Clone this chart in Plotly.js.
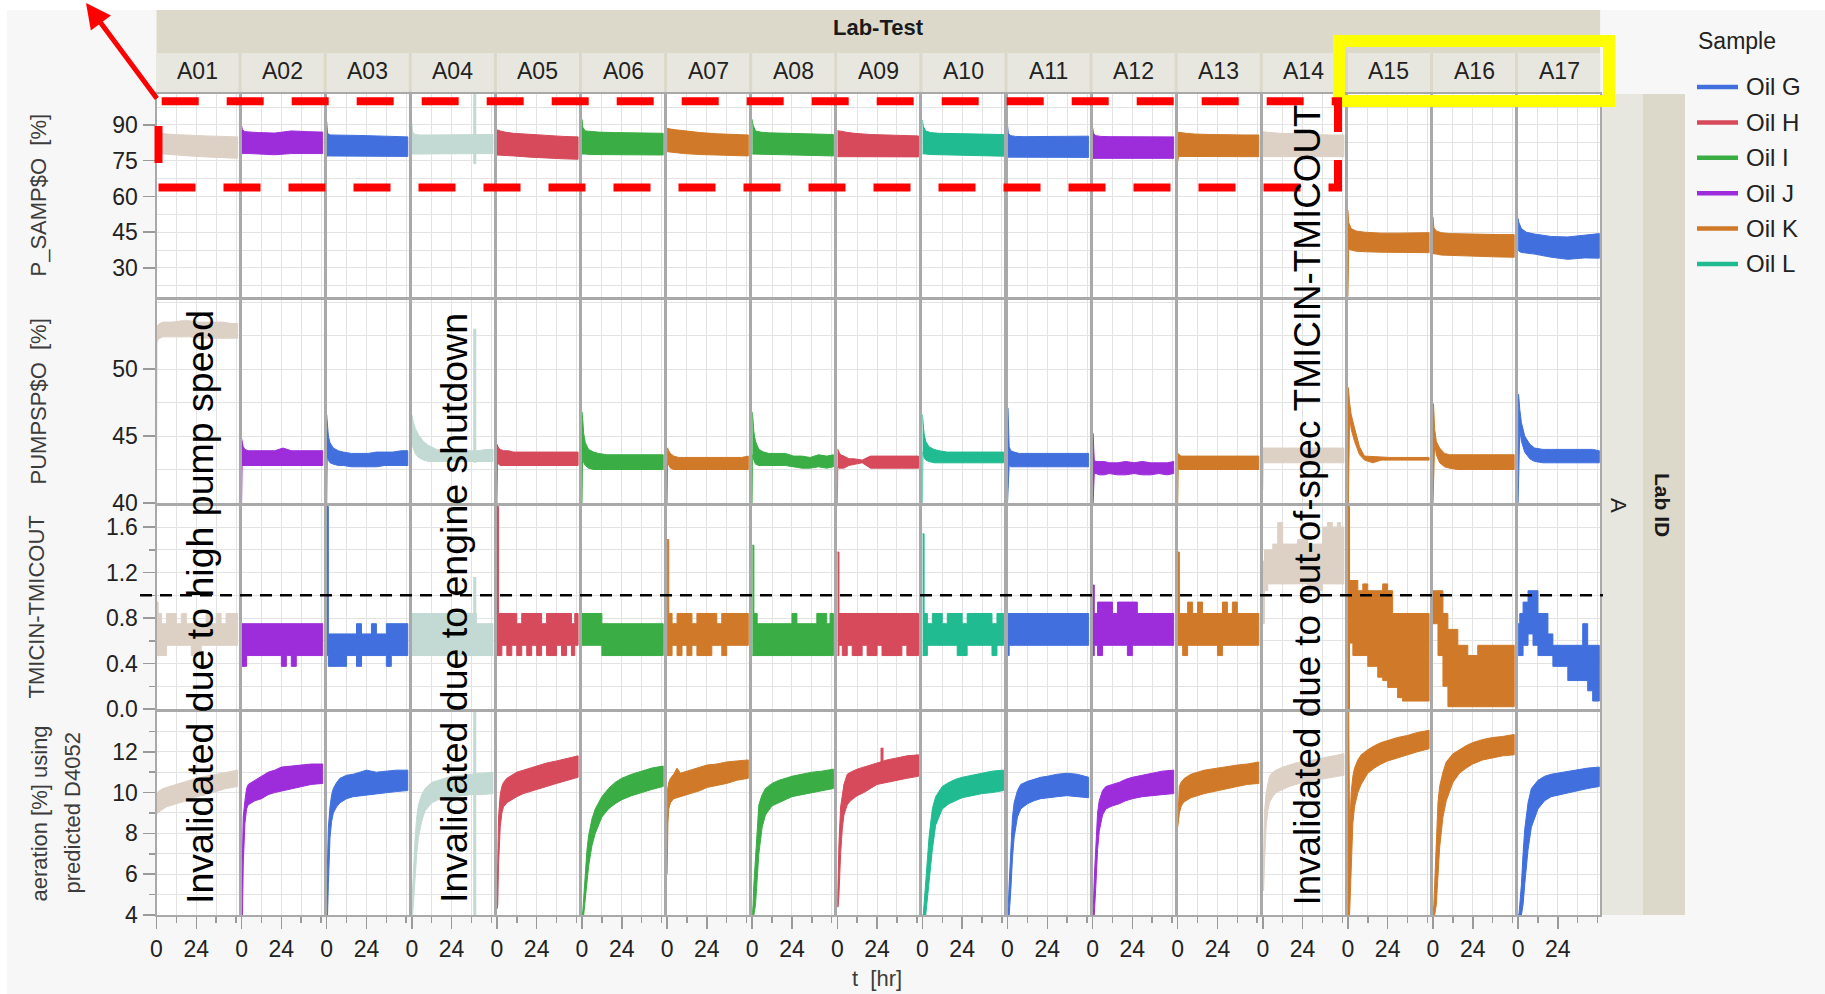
<!DOCTYPE html>
<html><head><meta charset="utf-8">
<script src="https://cdn.plot.ly/plotly-3.0.1.min.js"></script>
<style>html,body{margin:0;padding:0;background:#fff;}#chart{width:1825px;height:994px;}</style>
</head><body><div id="chart"></div>
<script>
// ---------------- DATA ----------------
const testIds = ['A01','A02','A03','A04','A05','A06','A07','A08','A09','A10','A11','A12','A13','A14','A15','A16','A17'];
const testSample = [null,'Oil J','Oil G',null,'Oil H','Oil I','Oil K','Oil I','Oil H','Oil L','Oil G','Oil J','Oil K',null,'Oil K','Oil K','Oil G'];
const oilNames = ['Oil G','Oil H','Oil I','Oil J','Oil K','Oil L'];
const rowTitles = ['P_SAMP$O\u00a0 [%]','PUMPSP$O\u00a0 [%]','TMICIN-TMICOUT','aeration [%] using','predicted D4052'];
const limitDT = 1.0;

// P_SAMP$O [%] envelope (upper / lower) at T1 hours
const T1 = [0, 0.5, 2, 5, 10, 20, 30, 40, 49];
const psampHi = [
 [86.5,86.5,86.5,86.3,86.0,85.6,85.4,85.2,85.0],
 [89.6,88.0,87.2,87.0,86.8,86.6,87.5,87.2,87.0],
 [91.4,86.5,85.8,85.8,85.8,85.6,85.4,85.2,85.0],
 [90.8,87.0,86.0,85.8,85.8,85.8,86.0,86.0,86.0],
 [87.9,87.9,87.5,87.0,86.5,86.0,85.5,85.2,85.0],
 [92.4,89.0,87.5,87.2,87.0,86.8,86.6,86.5,86.5],
 [88.6,88.6,88.3,88.0,87.5,86.8,86.3,86.0,85.8],
 [92.4,90.0,87.5,87.0,86.7,86.5,86.4,86.2,86.0],
 [87.6,87.6,87.4,87.0,86.5,86.0,85.7,85.5,85.4],
 [92.1,89.5,87.5,86.8,86.5,86.3,86.1,86.0,86.0],
 [90.0,86.5,85.5,85.2,85.1,85.1,85.1,85.1,85.3],
 [89.0,86.5,85.5,85.2,85.1,85.1,85.1,85.1,85.0],
 [87.0,87.0,86.8,86.5,86.2,86.0,85.8,85.8,85.8],
 [87.2,87.2,87.0,86.8,86.5,86.3,86.0,85.8,85.8],
 [54.3,49.0,46.5,45.5,45.0,44.6,44.6,44.6,44.8],
 [51.5,47.0,45.5,44.8,44.4,44.2,44.0,44.0,44.0],
 [50.8,49.0,46.5,45.0,44.2,43.2,43.0,43.8,44.4]];
const psampLo = [
 [72.0,78.0,78.0,77.8,77.6,77.0,76.6,76.2,76.0],
 [78.0,78.0,78.0,78.0,78.0,77.5,78.0,78.0,78.0],
 [77.0,77.0,77.0,76.8,76.8,76.8,76.8,76.8,76.8],
 [77.8,77.8,77.8,77.8,77.8,77.8,78.0,78.0,78.0],
 [77.4,77.4,77.4,77.2,77.0,76.5,76.0,75.8,75.6],
 [77.8,77.8,77.8,77.6,77.6,77.5,77.4,77.4,77.4],
 [78.8,78.8,78.6,78.4,78.0,77.6,77.3,77.1,77.0],
 [77.8,77.8,77.8,77.8,77.6,77.5,77.3,77.1,77.0],
 [76.7,76.7,76.7,76.7,76.7,76.6,76.6,76.6,76.6],
 [77.9,77.9,77.8,77.6,77.5,77.3,77.1,77.0,76.9],
 [76.5,76.5,76.5,76.5,76.5,76.4,76.4,76.4,76.4],
 [76.0,76.0,76.0,76.0,76.0,76.0,76.0,76.0,76.0],
 [74.6,76.8,76.8,76.8,76.8,76.8,76.7,76.7,76.7],
 [76.7,76.7,76.7,76.7,76.7,76.7,76.7,76.7,76.7],
 [18.0,38.0,37.5,37.0,36.8,36.6,36.5,36.4,36.4],
 [36.0,36.0,35.8,35.4,35.2,35.0,34.8,34.6,34.5],
 [37.5,37.0,36.5,36.2,35.8,34.5,33.6,34.2,34.1]];

// PUMPSP$O [%] envelope at T2 hours
const T2 = [0, 0.3, 1, 2, 4, 7, 10, 15, 20, 25, 30, 35, 40, 45, 49];
const pumpHi = [
 [53.0,53.2,53.3,53.4,53.5,53.5,53.5,53.6,53.6,53.5,53.5,53.5,53.5,53.4,53.4],
 [44.8,44.6,44.2,44.0,43.9,43.9,43.9,43.9,43.9,44.1,43.9,43.9,43.9,43.9,43.9],
 [46.6,46.0,45.0,44.5,44.1,43.9,43.8,43.7,43.7,43.7,43.8,43.8,43.8,43.9,43.9],
 [46.6,46.4,46.0,45.6,45.1,44.6,44.3,44.0,43.9,43.9,43.9,43.9,43.9,44.0,44.0],
 [44.4,44.3,44.1,44.0,43.9,43.9,43.8,43.8,43.8,43.8,43.8,43.8,43.8,43.8,43.8],
 [46.8,46.5,45.2,44.5,44.0,43.8,43.7,43.6,43.6,43.6,43.6,43.6,43.6,43.6,43.6],
 [44.1,44.1,43.9,43.7,43.5,43.4,43.4,43.4,43.4,43.4,43.4,43.4,43.4,43.4,43.5],
 [46.8,46.5,45.3,44.6,44.0,43.8,43.7,43.7,43.7,43.5,43.5,43.4,43.6,43.5,43.6],
 [44.0,44.0,43.8,43.6,43.5,43.3,43.3,43.2,43.5,43.5,43.5,43.5,43.5,43.5,43.5],
 [46.6,46.2,45.2,44.6,44.2,44.0,43.9,43.8,43.8,43.8,43.8,43.8,43.8,43.8,43.8],
 [47.1,47.1,44.2,43.9,43.8,43.7,43.7,43.7,43.7,43.7,43.7,43.7,43.7,43.7,43.7],
 [45.2,45.2,43.2,43.1,43.1,43.1,43.0,43.0,43.1,43.0,43.1,43.0,43.0,43.0,43.1],
 [43.7,43.7,43.6,43.5,43.5,43.5,43.5,43.5,43.5,43.5,43.5,43.5,43.5,43.5,43.5],
 [44.1,44.1,44.1,44.1,44.1,44.1,44.1,44.1,44.1,44.1,44.1,44.1,44.1,44.1,44.1],
 [48.6,48.6,47.5,46.6,45.6,44.2,43.5,43.45,43.4,43.4,43.4,43.4,43.4,43.4,43.4],
 [47.4,47.4,45.5,44.6,44.1,43.7,43.6,43.6,43.6,43.6,43.6,43.6,43.6,43.6,43.6],
 [48.1,48.1,47.0,46.0,45.0,44.4,44.1,44.0,44.0,44.0,44.0,44.0,44.0,44.0,43.9]];
const pumpLo = [
 [40.0,52.0,52.2,52.3,52.4,52.4,52.4,52.4,52.4,52.3,52.3,52.3,52.3,52.3,52.3],
 [40.0,42.8,42.8,42.8,42.8,42.8,42.8,42.8,42.8,42.8,42.8,42.8,42.8,42.8,42.8],
 [40.0,43.5,43.2,43.0,42.9,42.8,42.8,42.7,42.7,42.7,42.7,42.8,42.8,42.8,42.8],
 [44.5,44.3,44.0,43.7,43.4,43.2,43.1,43.1,43.1,43.1,43.1,43.1,43.1,43.1,43.1],
 [40.0,43.0,42.9,42.8,42.8,42.8,42.8,42.8,42.8,42.8,42.8,42.8,42.8,42.8,42.8],
 [40.0,43.4,43.0,42.8,42.6,42.5,42.5,42.5,42.5,42.5,42.5,42.5,42.5,42.5,42.5],
 [40.0,43.0,42.8,42.6,42.5,42.5,42.5,42.5,42.5,42.5,42.5,42.5,42.5,42.5,42.5],
 [40.0,43.6,43.2,42.9,42.8,42.8,42.8,42.8,42.8,42.7,42.6,42.6,42.7,42.6,42.7],
 [40.0,42.7,42.6,42.6,42.6,42.8,42.9,43.0,42.6,42.6,42.6,42.6,42.6,42.6,42.6],
 [40.0,43.8,43.4,43.2,43.1,43.0,43.0,43.0,43.0,43.0,43.0,43.0,43.0,43.0,43.0],
 [40.0,40.0,42.8,42.7,42.7,42.7,42.7,42.7,42.7,42.7,42.7,42.7,42.7,42.7,42.7],
 [40.0,40.0,42.2,42.2,42.1,42.1,42.2,42.1,42.1,42.2,42.1,42.1,42.2,42.1,42.2],
 [40.0,42.6,42.5,42.5,42.5,42.5,42.5,42.5,42.5,42.5,42.5,42.5,42.5,42.5,42.5],
 [41.0,43.0,43.0,43.0,43.0,43.0,43.0,43.0,43.0,43.0,43.0,43.0,43.0,43.0,43.0],
 [40.0,40.0,46.5,45.5,44.6,43.6,43.2,43.0,43.2,43.2,43.2,43.2,43.2,43.2,43.2],
 [40.0,40.0,44.5,43.6,43.0,42.7,42.6,42.5,42.5,42.5,42.5,42.5,42.5,42.5,42.5],
 [40.0,40.0,45.5,44.6,43.8,43.3,43.1,43.0,43.0,43.0,43.0,43.0,43.0,43.0,43.0]];

// TMICIN-TMICOUT: quantized steps starting at T3 hours (each holds until the next, last until 49 h)
const T3 = [0, 1, 3, 6, 9, 12, 15, 18, 21, 24, 27, 30, 33, 36, 39, 42, 45, 47];
const tEnd = 49;
const dtHi = [
 [0.94,0.84,0.75,0.84,0.84,0.75,0.84,0.75,0.75,0.75,0.75,0.84,0.75,0.84,0.75,0.84,0.84,0.84],
 [0.75,0.75,0.75,0.75,0.75,0.75,0.75,0.75,0.75,0.75,0.75,0.75,0.75,0.75,0.75,0.75,0.75,0.75],
 [1.78,0.66,0.66,0.66,0.66,0.66,0.66,0.75,0.66,0.66,0.75,0.66,0.66,0.75,0.75,0.75,0.75,0.75],
 [0.84,0.84,0.84,0.84,0.84,0.84,0.84,0.84,0.84,0.84,0.84,0.84,0.84,0.84,0.75,0.75,0.75,0.75],
 [1.78,0.84,0.84,0.84,0.84,0.75,0.84,0.84,0.84,0.84,0.75,0.84,0.84,0.84,0.84,0.84,0.75,0.84],
 [0.84,0.84,0.84,0.84,0.84,0.75,0.75,0.75,0.75,0.75,0.75,0.75,0.75,0.75,0.75,0.75,0.75,0.75],
 [1.49,0.84,0.75,0.84,0.84,0.84,0.75,0.84,0.84,0.84,0.84,0.75,0.84,0.84,0.84,0.84,0.84,0.84],
 [1.44,0.84,0.75,0.75,0.75,0.75,0.75,0.75,0.75,0.84,0.75,0.75,0.75,0.75,0.84,0.84,0.75,0.84],
 [1.38,0.84,0.84,0.84,0.84,0.84,0.84,0.84,0.84,0.84,0.84,0.84,0.84,0.84,0.84,0.84,0.84,0.84],
 [1.54,0.84,0.75,0.84,0.84,0.75,0.84,0.84,0.84,0.75,0.84,0.84,0.84,0.84,0.84,0.75,0.84,0.84],
 [0.84,0.84,0.84,0.84,0.84,0.84,0.84,0.84,0.84,0.84,0.84,0.84,0.84,0.84,0.84,0.84,0.84,0.84],
 [1.09,0.84,0.94,0.94,0.94,0.84,0.94,0.94,0.94,0.94,0.84,0.84,0.84,0.84,0.84,0.84,0.84,0.84],
 [1.38,0.84,0.84,0.94,0.84,0.94,0.84,0.84,0.84,0.84,0.94,0.84,0.94,0.84,0.84,0.84,0.84,0.84],
 [1.30,1.40,1.40,1.45,1.64,1.45,1.45,1.45,1.49,1.49,1.45,1.45,1.45,1.60,1.64,1.60,1.64,1.60],
 [1.78,1.13,1.13,1.04,1.10,1.04,1.04,1.04,1.10,1.04,0.84,0.84,0.84,0.84,0.84,0.84,0.84,0.84],
 [1.04,1.04,1.04,0.84,0.70,0.70,0.56,0.56,0.47,0.47,0.56,0.56,0.56,0.56,0.56,0.56,0.56,0.56],
 [0.75,0.84,0.94,1.04,1.04,0.84,0.84,0.66,0.56,0.56,0.56,0.56,0.56,0.56,0.75,0.56,0.56,0.56]];
const dtLo = [
 [0.47,0.47,0.47,0.56,0.56,0.56,0.56,0.56,0.47,0.47,0.56,0.56,0.56,0.56,0.56,0.56,0.56,0.56],
 [0.375,0.375,0.47,0.47,0.47,0.47,0.47,0.47,0.47,0.375,0.47,0.375,0.47,0.47,0.47,0.47,0.47,0.47],
 [0.47,0.375,0.375,0.375,0.375,0.47,0.47,0.375,0.47,0.47,0.47,0.47,0.47,0.375,0.47,0.47,0.47,0.47],
 [0.47,0.47,0.47,0.47,0.47,0.47,0.47,0.47,0.47,0.47,0.47,0.47,0.47,0.47,0.47,0.47,0.47,0.47],
 [0.47,0.47,0.56,0.47,0.56,0.47,0.56,0.47,0.56,0.47,0.56,0.47,0.47,0.56,0.47,0.56,0.47,0.56],
 [0.56,0.56,0.56,0.56,0.56,0.47,0.47,0.47,0.47,0.47,0.47,0.47,0.47,0.47,0.47,0.47,0.47,0.47],
 [0.47,0.47,0.56,0.47,0.56,0.47,0.56,0.47,0.47,0.47,0.56,0.56,0.47,0.56,0.56,0.56,0.56,0.56],
 [0.47,0.47,0.47,0.47,0.47,0.47,0.47,0.47,0.47,0.47,0.47,0.47,0.47,0.47,0.47,0.47,0.47,0.47],
 [0.47,0.56,0.47,0.56,0.47,0.47,0.56,0.47,0.47,0.56,0.47,0.47,0.47,0.47,0.56,0.47,0.47,0.47],
 [0.47,0.47,0.56,0.56,0.56,0.56,0.56,0.56,0.47,0.47,0.56,0.56,0.56,0.56,0.56,0.47,0.56,0.56],
 [0.47,0.56,0.56,0.56,0.56,0.56,0.56,0.56,0.56,0.56,0.56,0.56,0.56,0.56,0.56,0.56,0.56,0.56],
 [0.47,0.56,0.47,0.56,0.56,0.56,0.56,0.56,0.47,0.56,0.56,0.56,0.56,0.56,0.56,0.56,0.56,0.56],
 [0.56,0.56,0.47,0.56,0.56,0.56,0.56,0.56,0.56,0.47,0.56,0.56,0.56,0.56,0.56,0.56,0.56,0.56],
 [0.75,1.04,1.10,1.10,1.10,1.10,1.10,1.10,1.10,1.10,1.04,1.04,1.04,1.10,1.10,1.10,1.10,1.10],
 [0.00,0.58,0.47,0.47,0.47,0.375,0.375,0.28,0.25,0.19,0.19,0.10,0.07,0.07,0.07,0.07,0.07,0.07],
 [0.75,0.75,0.47,0.20,0.02,0.02,0.02,0.02,0.02,0.02,0.02,0.02,0.02,0.02,0.02,0.02,0.02,0.02],
 [0.47,0.47,0.56,0.66,0.56,0.47,0.47,0.47,0.375,0.375,0.375,0.25,0.25,0.25,0.25,0.16,0.07,0.07]];

// aeration [%] envelope at T4 hours
const T4 = [0, 0.5, 1, 2, 3, 4, 6, 8, 12, 16, 20, 24, 30, 36, 42, 49];
const aerHi = [
 [10.0,10.0,10.05,10.1,10.15,10.2,10.25,10.3,10.4,10.5,10.6,10.7,10.8,10.9,11.0,11.1],
 [5.0,7.5,8.8,9.6,10.2,10.4,10.5,10.6,10.8,11.0,11.1,11.25,11.3,11.35,11.4,11.4],
 [5.0,7.0,8.3,9.3,9.9,10.2,10.5,10.7,10.85,10.9,11.0,11.1,11.0,11.05,11.1,11.1],
 [4.5,5.5,6.5,7.8,8.8,9.4,9.9,10.2,10.5,10.6,10.7,10.8,10.85,10.9,10.95,11.0],
 [4.3,7.0,8.8,9.9,10.3,10.5,10.7,10.8,11.0,11.1,11.2,11.3,11.45,11.55,11.65,11.8],
 [4.0,4.2,4.8,6.2,7.2,7.9,8.7,9.2,9.8,10.2,10.5,10.7,10.9,11.05,11.2,11.3],
 [10.0,10.3,10.5,10.7,10.8,10.9,11.2,10.95,11.05,11.15,11.25,11.35,11.4,11.5,11.55,11.6],
 [4.0,4.5,5.5,7.0,8.5,9.4,9.9,10.2,10.45,10.6,10.7,10.8,10.9,11.0,11.05,11.15],
 [4.4,6.0,7.5,9.3,10.0,10.4,10.9,11.0,11.15,11.25,11.35,11.45,11.6,11.7,11.8,11.85],
 [4.0,4.0,4.5,5.5,6.8,7.8,9.2,9.8,10.3,10.5,10.65,10.75,10.85,10.95,11.05,11.1],
 [4.0,4.5,5.5,7.5,8.8,9.5,10.1,10.4,10.55,10.65,10.75,10.8,10.9,10.95,10.9,10.75],
 [4.0,4.5,5.8,7.8,9.0,9.6,10.1,10.3,10.4,10.5,10.65,10.75,10.85,10.95,11.05,11.1],
 [8.5,10.0,10.3,10.5,10.6,10.7,10.8,10.9,11.0,11.1,11.15,11.2,11.3,11.35,11.4,11.5],
 [5.2,7.5,9.0,10.0,10.5,10.8,11.0,11.1,11.25,11.35,11.45,11.5,11.6,11.7,11.8,11.9],
 [14.0,14.0,8.0,10.0,10.8,11.2,11.6,11.85,12.1,12.3,12.45,12.55,12.7,12.8,12.95,13.05],
 [4.0,4.5,5.5,7.5,9.5,10.3,11.0,11.5,11.9,12.1,12.3,12.45,12.6,12.7,12.75,12.85],
 [4.0,4.0,4.5,5.5,7.0,8.2,9.5,10.2,10.6,10.8,10.9,10.95,11.05,11.1,11.2,11.25]];
const aerLo = [
 [8.9,9.0,9.05,9.1,9.15,9.2,9.3,9.35,9.45,9.55,9.65,9.8,9.9,10.05,10.2,10.3],
 [4.0,4.0,6.5,8.5,9.2,9.4,9.5,9.6,9.7,9.9,10.0,10.1,10.2,10.3,10.4,10.45],
 [4.0,4.0,5.5,7.8,8.6,9.0,9.3,9.5,9.7,9.8,9.85,9.9,9.95,10.0,10.05,10.1],
 [4.0,4.0,4.5,5.8,7.0,7.8,8.6,9.1,9.5,9.65,9.75,9.8,9.85,9.9,9.9,9.95],
 [4.3,4.5,6.5,8.3,9.0,9.3,9.5,9.6,9.8,9.95,10.05,10.15,10.3,10.45,10.6,10.75],
 [4.0,4.0,4.0,4.6,5.6,6.4,7.4,8.0,8.8,9.2,9.45,9.65,9.85,10.0,10.15,10.3],
 [6.0,8.5,9.2,9.5,9.6,9.7,9.75,9.8,9.9,10.0,10.1,10.25,10.35,10.45,10.6,10.7],
 [4.0,4.0,4.0,4.5,5.8,7.0,8.3,8.9,9.35,9.5,9.65,9.8,9.9,10.0,10.1,10.2],
 [4.4,4.4,5.0,7.0,8.2,8.9,9.4,9.6,9.85,10.0,10.2,10.4,10.5,10.6,10.7,10.8],
 [4.0,4.0,4.0,4.0,4.5,5.5,7.2,8.4,9.2,9.45,9.6,9.75,9.85,9.95,10.0,10.1],
 [4.0,4.0,4.0,5.2,6.8,7.8,8.8,9.2,9.45,9.6,9.7,9.75,9.8,9.85,9.8,9.75],
 [4.0,4.0,4.0,5.5,7.2,8.1,8.9,9.2,9.35,9.45,9.6,9.7,9.8,9.85,9.9,9.95],
 [8.3,8.5,9.0,9.3,9.45,9.55,9.65,9.75,9.85,9.95,10.0,10.1,10.2,10.3,10.4,10.45],
 [5.2,5.2,6.5,8.3,9.1,9.5,9.8,10.0,10.15,10.3,10.4,10.5,10.6,10.7,10.75,10.85],
 [4.0,4.0,4.0,6.5,8.5,9.3,10.0,10.4,10.95,11.2,11.4,11.55,11.7,11.85,12.0,12.15],
 [4.0,4.0,4.0,4.5,6.0,7.3,8.8,9.6,10.5,10.95,11.2,11.4,11.6,11.7,11.8,11.85],
 [4.0,4.0,4.0,4.0,4.5,5.5,7.2,8.3,9.2,9.6,9.8,9.9,10.0,10.1,10.2,10.3]];

// isolated excursions (test, row, time, low, high)
const spikeTest = ['A04','A04','A04','A04','A09'];
const spikeRow  = [0, 1, 2, 3, 3];
const spikeT    = [38, 38, 38, 38, 27];
const spikeLo   = [73.6, 43.0, 0.47, 4.0, 10.6];
const spikeHi   = [103, 53.0, 1.16, 14.0, 12.2];

// y axis scales per row
const yRanges = [[17.8,103],[40,55.15],[0,1.785],[4,13.95]];
const yTicks = [[30,45,60,75,90],[40,45,50],[0,0.4,0.8,1.2,1.6],[4,6,8,10,12]];
const yTickText = [['30','45','60','75','90'],['40','45','50'],['0.0','0.4','0.8','1.2','1.6'],['4','6','8','10','12']];
const yMinor = [7.5, 2.5, 0.2, 1];
const xTicks = [0, 24];

// ---------------- STYLE ----------------
const oilColors = {'Oil G':'#4170de','Oil H':'#d64a5b','Oil I':'#3aae45','Oil J':'#9d2ddb','Oil K':'#d07a29','Oil L':'#21bb91'};
const invalidColors = {'A01':'#ddd1c6','A04':'#c2dad3','A14':'#ddd1c6'};
const FONT = 'Liberation Sans, Arial, sans-serif';
const W = 1825, H = 994;
const px = x => x / W, py = y => 1 - y / H;
const colLeft0 = 156.5, colPitch = 85.1, colW = 82;
const rowTop = [94, 300, 506, 712], rowH = 203;
const gridC = '#e3e3e3', frameC = '#a9a9a9', tickC = '#9a9a9a';

function colorOf(i){ return testSample[i] ? oilColors[testSample[i]] : invalidColors[testIds[i]]; }

const layout = {width:W, height:H, margin:{l:0,r:0,t:0,b:0}, paper_bgcolor:'#f7f7f7', plot_bgcolor:'#ffffff',
  showlegend:false, font:{family:FONT, color:'#222'}, shapes:[], annotations:[]};
const traces = [];

function axId(r,c){ const k = r*17 + c + 1; return k===1 ? '' : String(k); }

for (let r=0;r<4;r++){
  for (let c=0;c<17;c++){
    const id = axId(r,c);
    const L = colLeft0 + c*colPitch;
    layout['xaxis'+id] = {domain:[px(L), px(L+colW)], range:[0,49.5], anchor:'y'+id,
      showline:true, mirror:true, linecolor:frameC, linewidth:2, zeroline:false,
      showgrid:true, gridcolor:gridC, gridwidth:1,
      tickmode:'array', tickvals:xTicks, ticktext:xTicks.map(String),
      showticklabels: r===3, ticks: r===3 ? 'outside' : '', ticklen:12, tickwidth:1.5, tickcolor:tickC,
      tickfont:{size:23, color:'#222', family:FONT},
      minor:{tickmode:'linear', tick0:0, dtick:12, showgrid:true, gridcolor:gridC, gridwidth:1,
             ticks: r===3 ? 'outside' : '', ticklen:6, tickwidth:1.5, tickcolor:tickC},
      fixedrange:true};
    layout['yaxis'+id] = {domain:[py(rowTop[r]+rowH), py(rowTop[r])], range:yRanges[r], anchor:'x'+id,
      showline:true, mirror:true, linecolor:frameC, linewidth:2, zeroline:false,
      showgrid:true, gridcolor:gridC, gridwidth:1,
      tickmode:'array', tickvals:yTicks[r], ticktext:yTickText[r],
      showticklabels: c===0, ticks: c===0 ? 'outside' : '', ticklen:12, tickwidth:1.5, tickcolor:tickC,
      tickfont:{size:23, color:'#222', family:FONT},
      minor:{tickmode:'linear', tick0:0, dtick:yMinor[r], showgrid:true, gridcolor:gridC, gridwidth:1,
             ticks: (c===0 && r>=2) ? 'outside' : '', ticklen:6, tickwidth:1.5, tickcolor:tickC},
      fixedrange:true};
  }
}

function envelope(T, hi, lo){
  const rt = T.slice().reverse();
  return {x: T.concat(rt), y: hi.concat(lo.slice().reverse())};
}
function stepEnvelope(T, hi, lo, end){
  const xs=[], ys=[];
  for (let i=0;i<T.length;i++){ const t1 = i+1<T.length ? T[i+1] : end; xs.push(T[i], t1); ys.push(hi[i], hi[i]); }
  for (let i=T.length-1;i>=0;i--){ const t1 = i+1<T.length ? T[i+1] : end; xs.push(t1, T[i]); ys.push(lo[i], lo[i]); }
  return {x:xs, y:ys};
}

const rowData = [
  {T:T1, hi:psampHi, lo:psampLo, step:false},
  {T:T2, hi:pumpHi, lo:pumpLo, step:false},
  {T:T3, hi:dtHi, lo:dtLo, step:true},
  {T:T4, hi:aerHi, lo:aerLo, step:false}];

for (let r=0;r<4;r++){
  for (let c=0;c<17;c++){
    const id = axId(r,c), col = colorOf(c), d = rowData[r];
    const e = d.step ? stepEnvelope(d.T, d.hi[c], d.lo[c], tEnd) : envelope(d.T, d.hi[c], d.lo[c]);
    traces.push({type:'scatter', mode:'lines', x:e.x, y:e.y, fill:'toself', fillcolor:col,
      line:{color:col, width:1}, xaxis:'x'+id, yaxis:'y'+id, hoverinfo:'skip',
      name: testSample[c] || testIds[c]});
  }
}
for (let i=0;i<spikeT.length;i++){
  const c = testIds.indexOf(spikeTest[i]), id = axId(spikeRow[i], c);
  traces.push({type:'scatter', mode:'lines', x:[spikeT[i], spikeT[i]], y:[spikeLo[i], spikeHi[i]],
    line:{color:colorOf(c), width:3}, xaxis:'x'+id, yaxis:'y'+id, hoverinfo:'skip'});
}

// ---------- decorations ----------
const S = layout.shapes, A = layout.annotations;
function prect(x0,y0,x1,y1,fill,layer){ S.push({type:'rect', xref:'paper', yref:'paper', x0:px(x0), x1:px(x1), y0:py(y1), y1:py(y0), fillcolor:fill, line:{width:0}, layer:layer||'below'}); }
function ann(x, y, text, opts){
  A.push(Object.assign({xref:'paper', yref:'paper', x:px(x), y:py(y), text:text, showarrow:false,
    xanchor:'center', yanchor:'middle', font:{size:22, color:'#222', family:FONT}}, opts||{}));
}
prect(0,0,W,10,'#ffffff'); prect(0,0,7,H,'#ffffff');
prect(colLeft0, 10, colLeft0+16*colPitch+colW, 93, '#dcd9cb');
for (let c=0;c<17;c++){
  const L = colLeft0 + c*colPitch;
  prect(L, 53, L+colW, 92, '#e8e7df');
  ann(L+colW/2, 71, testIds[c], {font:{size:23, color:'#222', family:FONT}});
}
const stripL = colLeft0+16*colPitch+colW;
prect(stripL+1, 94, 1643, 915, '#e8e7df');
prect(1643, 94, 1685, 915, '#dcd9cb');
ann(878, 27, '<b>Lab-Test</b>', {font:{size:22, color:'#1a1a1a', family:FONT}});
ann(1619, 505, 'A', {textangle:90, font:{size:22, color:'#222', family:FONT}});
ann(1663, 505, '<b>Lab ID</b>', {textangle:90, font:{size:21, color:'#1a1a1a', family:FONT}});

// axis titles
const titleC = '#3c3c3c';
const tf = {size:22, color:titleC, family:FONT};
const titleY = rowTop.map(t => t + rowH/2);
ann(38, titleY[0], rowTitles[0], {textangle:-90, font:tf});
ann(38, titleY[1], rowTitles[1], {textangle:-90, font:tf});
ann(36, titleY[2], rowTitles[2], {textangle:-90, font:tf});
ann(39, titleY[3], rowTitles[3], {textangle:-90, font:tf});
ann(72, titleY[3], rowTitles[4], {textangle:-90, font:tf});
ann(877, 978, 't\u00a0 [hr]', {font:tf});

// legend (manual)
ann(1696, 41, 'Sample', {xanchor:'left', font:{size:23, color:'#222', family:FONT}});
oilNames.forEach((n,i)=>{
  const yy = 87 + i*35.4;
  S.push({type:'line', xref:'paper', yref:'paper', x0:px(1697), x1:px(1738), y0:py(yy), y1:py(yy), line:{color:oilColors[n], width:4.5}});
  ann(1744, yy, n, {xanchor:'left', font:{size:24, color:'#222', family:FONT}});
});

// reference limit line
S.push({type:'line', xref:'paper', yref:'y'+axId(2,0), x0:px(140), x1:px(1603), y0:limitDT, y1:limitDT,
  line:{color:'#000', width:2.5, dash:'12px,8px'}, layer:'above'});

// highlight boxes
S.push({type:'rect', xref:'paper', yref:'paper', x0:px(1339), x1:px(1609), y0:py(101), y1:py(41),
  line:{color:'#ffff00', width:12}, fillcolor:'rgba(0,0,0,0)', layer:'above'});
S.push({type:'rect', xref:'paper', yref:'paper', x0:px(158.5), x1:px(1338), y0:py(187.5), y1:py(101.3),
  line:{color:'#ff0000', width:8, dash:'37px,28px'}, fillcolor:'rgba(0,0,0,0)', layer:'above'});

// notes
const noteFont = {family:'Liberation Sans, Arial, sans-serif', size:37.5, color:'#000'};
ann(199.5, 607.5, 'Invalidated due to high pump speed', {textangle:-90, font:noteFont});
ann(454, 608, 'Invalidated due to engine shutdown', {textangle:-90, font:noteFont});
ann(1306.5, 505, 'Invalidated due to out-of-spec TMICIN-TMICOUT', {textangle:-90, font:Object.assign({}, noteFont, {size:36.8})});

// arrow
A.push({xref:'paper', yref:'paper', x:px(86), y:py(3), ax:72, ay:97, text:'', showarrow:true,
  arrowhead:2, arrowsize:1, arrowwidth:5, arrowcolor:'#ff0000', standoff:0});

Plotly.newPlot('chart', traces, layout, {staticPlot:true, displayModeBar:false});
</script>
</body></html>
